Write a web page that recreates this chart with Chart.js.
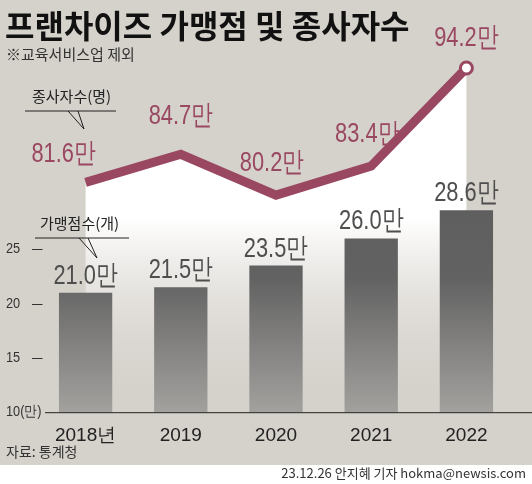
<!DOCTYPE html>
<html><head><meta charset="utf-8">
<script src="https://cdn.jsdelivr.net/npm/chart.js@4"></script>
<style>html,body{margin:0;padding:0;background:#fff}#w{width:532px;height:484px;position:relative}</style>
</head><body><div id="w"><canvas id="c" width="532" height="484"></canvas></div>
<script>
const categories = ['2018년','2019','2020','2021','2022'];
const storeCounts = [21.0, 21.5, 23.5, 26.0, 28.6];
const employeeCounts = [81.6, 84.7, 80.2, 83.4, 94.2];
const barTicks = [10, 15, 20, 25];
const barTickLabels = ['10(만)','15','20','25'];
const lineLabelOffsets = [[-22,-20],[0,-30],[-4,-24],[-4,-24],[0,-22]];
const K = '"Noto Sans CJK KR"';
const NUM = '"Liberation Sans",sans-serif';
const MAROON = '#9a4862';

function narrowText(c,t,x,y,sx){c.save();c.translate(x,y);c.scale(sx,1);c.fillText(t,0,0);c.restore();}

const deco = {
  id:'deco',
  beforeDraw(ch){
    const c=ch.ctx;
    c.save(); c.fillStyle='#d5d1cb'; c.fillRect(0,0,532,465); c.restore();
  },
  beforeDatasetsDraw(ch){
    const c=ch.ctx, m=ch.getDatasetMeta(1).data, a=ch.chartArea;
    const g=c.createLinearGradient(0,60,0,a.bottom);
    g.addColorStop(0,'#ffffff'); g.addColorStop(0.45,'#ffffff'); g.addColorStop(1,'rgba(213,209,203,0)');
    c.save(); c.beginPath(); c.moveTo(m[0].x,a.bottom);
    m.forEach(p=>c.lineTo(p.x,p.y)); c.lineTo(m[m.length-1].x,a.bottom); c.closePath();
    c.fillStyle=g; c.fill(); c.restore();
  },
  afterDraw(ch){
    const c=ch.ctx, a=ch.chartArea;
    c.save();
    c.fillStyle='#111'; c.font='bold 32px '+K; c.textBaseline='alphabetic';
    c.fillText('프랜차이즈 가맹점 및 종사자수',5,38);
    c.font='15px '+K; c.fillStyle='#333'; c.fillText('※교육서비스업 제외',6,60);
    c.font='15px '+K; c.fillStyle='#222';
    c.fillText('종사자수(명)',32,102); c.fillText('가맹점수(개)',40,229);
    c.strokeStyle='#222'; c.lineWidth=1;
    c.beginPath(); c.moveTo(25,111); c.lineTo(116,111); c.stroke();
    c.beginPath(); c.moveTo(68,111); c.lineTo(84,129); c.lineTo(78,111); c.stroke();
    c.beginPath(); c.moveTo(35,238); c.lineTo(129,238); c.stroke();
    c.beginPath(); c.moveTo(79,238); c.lineTo(97,258); c.lineTo(88,238); c.stroke();
    c.beginPath(); c.moveTo(45,a.bottom+0.5); c.lineTo(532,a.bottom+0.5); c.stroke();
    const ys=ch.scales.y;
    c.font='15px '+NUM; c.fillStyle='#333'; c.textAlign='left'; c.textBaseline='middle';
    barTicks.forEach((v,i)=>{
      const y=ys.getPixelForValue(v);
      narrowText(c,barTickLabels[i],6,y,0.85);
      if(i>0) narrowText(c,'—',32,y,0.7);
    });
    c.textBaseline='alphabetic';
    const bm=ch.getDatasetMeta(0).data;
    c.font='28px '+NUM; c.textAlign='center'; c.fillStyle='#4e4e4e';
    bm.forEach((b,i)=>narrowText(c,storeCounts[i].toFixed(1)+'만',b.x,b.y-9,0.78));
    const lm=ch.getDatasetMeta(1).data;
    c.fillStyle=MAROON;
    lm.forEach((p,i)=>narrowText(c,employeeCounts[i].toFixed(1)+'만',p.x+lineLabelOffsets[i][0],p.y+lineLabelOffsets[i][1],0.78));
    c.font='14px '+K; c.textAlign='left'; c.fillStyle='#333';
    c.fillText('자료: 통계청',6,457);
    c.textAlign='right'; c.font='13px '+K;
    c.fillText('23.12.26 안지혜 기자 hokma@newsis.com',526,478);
    c.restore();
  }
};

new Chart(document.getElementById('c'),{
  data:{labels:categories,datasets:[
    {type:'bar',data:storeCounts,yAxisID:'y',order:2,barPercentage:0.56,categoryPercentage:1,
     backgroundColor:(ctx)=>{const a=ctx.chart.chartArea;if(!a)return '#666';
       const g=ctx.chart.ctx.createLinearGradient(0,205,0,a.bottom);
       g.addColorStop(0,'#5e5e5e');g.addColorStop(0.35,'#626262');g.addColorStop(1,'#a3a19e');return g;}},
    {type:'line',data:employeeCounts,yAxisID:'y2',order:1,borderColor:MAROON,borderWidth:9,
     borderJoinStyle:'miter',tension:0,clip:false,
     pointRadius:[0,0,0,0,6],pointBackgroundColor:'#fff',pointBorderColor:MAROON,pointBorderWidth:3}
  ]},
  options:{responsive:false,animation:false,
    layout:{padding:{left:0,right:18,top:68,bottom:33}},
    plugins:{legend:{display:false},tooltip:{enabled:false}},
    scales:{
      x:{grid:{display:false},border:{display:false},ticks:{color:'#222',font:{size:19,family:NUM},padding:4}},
      y:{min:10,max:41.7,afterBuildTicks:(s)=>{s.ticks=barTicks.map(v=>({value:v}));},
         afterFit:(s)=>{s.width=38;},
         grid:{display:false},border:{display:false},
         ticks:{display:false}},
      y2:{display:false,min:56.3,max:94.2}
    }
  },
  plugins:[deco]
});
</script></body></html>
